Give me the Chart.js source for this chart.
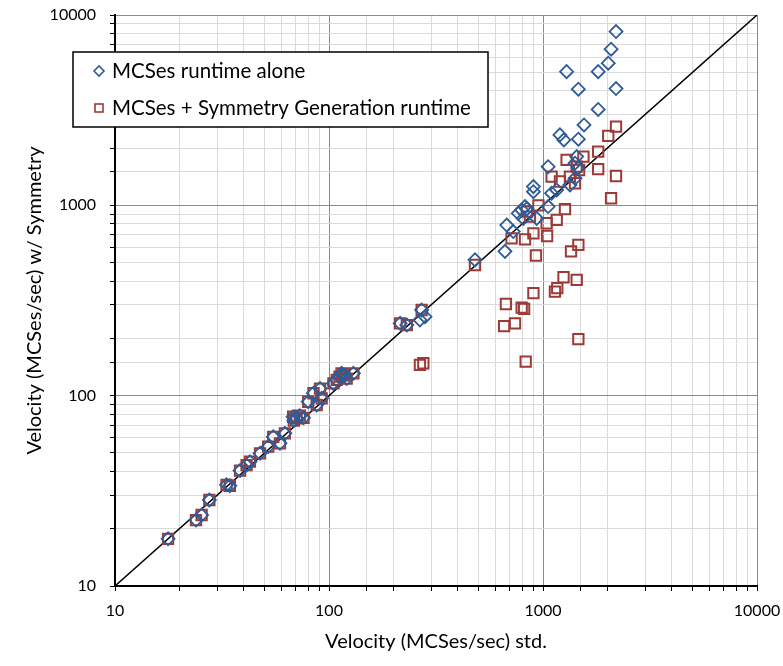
<!DOCTYPE html>
<html>
<head>
<meta charset="utf-8">
<script src="https://cdn.jsdelivr.net/npm/chart.js@4/dist/chart.umd.min.js"></script>
<style>
  body { margin: 0; background: #fff; }
  canvas { display: block; }
</style>
</head>
<body>
<canvas id="grafico" width="783" height="666"></canvas>
<script>
// velocidades: std. (x) vs con simetria (y)
const aloneX = [17.7, 23.9, 25.4, 27.6, 33.2, 34.4, 38.4, 41.2, 42.7, 47.6, 52.0, 54.9, 59.0, 62.2, 68.0, 68.5, 70.5, 73.0, 76.0,
  80.0, 84.6, 87.6, 90.8, 92.4, 104.9, 108.7, 112.0, 114.4, 118.0, 120.9, 130.0,
  215, 231, 266, 271, 281,
  481, 664, 677, 726, 766, 795, 809, 824, 840, 902, 902, 934, 1057, 1057, 1097, 1159, 1200, 1252, 1289,
  1336, 1411, 1411, 1437, 1456, 1463, 1463, 1555, 1811, 1811, 2018, 2080, 2194, 2194]
const aloneY = [17.7, 22.2, 23.6, 28.3, 34.0, 33.6, 40.4, 43.2, 45.0, 49.8, 54.0, 60.8, 56.2, 63.4, 77.5, 74.0, 76.0, 78.5, 76.5,
  92.9, 103, 89.3, 109, 96.8, 116, 121, 126, 131, 128, 123, 131,
  240, 235, 250, 282, 260,
  517, 573, 788, 728, 908, 946, 854, 985, 958, 1254, 1180, 854, 985, 1596, 1158, 1205, 2345, 2207, 5040,
  1280, 1387, 1665, 1803, 1570, 2227, 4074, 2645, 3190, 5040, 5585, 6613, 4105, 8185]

const symX = [17.7, 23.9, 25.4, 27.6, 33.2, 34.4, 38.4, 41.2, 42.7, 47.6, 52.0, 54.9, 59.0, 62.2, 68.0, 68.5, 70.5, 73.0, 76.0,
  80.0, 84.6, 87.6, 90.8, 92.4, 104.9, 108.7, 112.0, 114.4, 118.0, 120.9, 130.0,
  215, 231, 266, 271, 276,
  481, 658, 671, 713, 740, 795, 816, 824, 830, 840, 869, 902, 902, 927, 952, 1040, 1045, 1097, 1137,
  1159, 1166, 1200, 1247, 1267, 1289, 1336, 1352, 1411, 1437, 1437, 1463, 1463, 1475, 1545, 1811, 1811,
  2018, 2080, 2194, 2194]
const symY = [17.7, 22.2, 23.6, 28.3, 34.0, 33.6, 40.4, 43.2, 45.0, 49.8, 54.0, 60.8, 56.2, 63.4, 77.5, 74.0, 76.0, 78.5, 76.5,
  92.9, 103, 89.3, 109, 96.8, 116, 121, 126, 131, 128, 123, 131,
  240, 235, 145, 282, 148,
  486, 232, 303, 671, 240, 290, 286, 662, 151, 927, 873, 713, 346, 545, 1000, 805, 690, 1415, 352,
  839, 367, 1334, 419, 955, 1734, 1415, 573, 1306, 1596, 406, 620, 198, 1534, 1803, 1916, 1549,
  2316, 1089, 2592, 1426]

const diagonal = [10, 10000]
const etiquetas = ['MCSes runtime alone', 'MCSes + Symmetry Generation runtime']

const fuente = 'Lato, "Open Sans", sans-serif'
const azul = '#2f5b97'
const rojo = '#9c3a37'

const puntos = (xs, ys) => xs.map((x, i) => ({ x: x, y: ys[i] }))
const esDecada = v => Math.abs(Math.log10(v) - Math.round(Math.log10(v))) < 1e-6
const colorGrilla = c => (c.tick && esDecada(c.tick.value)) ? '#8a8a8a' : '#dadada'

// cuadro de leyenda dentro del grafico
const cuadroLeyenda = {
  id: 'cuadroLeyenda',
  afterDraw(chart) {
    const c = chart.ctx
    c.save()
    c.fillStyle = '#fff'
    c.fillRect(73, 52, 415, 75)
    c.strokeStyle = '#000'
    c.lineWidth = 1.5
    c.strokeRect(73, 52, 415, 75)

    c.lineWidth = 1.6
    c.strokeStyle = azul
    c.beginPath()
    c.moveTo(94, 71); c.lineTo(99, 66); c.lineTo(104, 71); c.lineTo(99, 76)
    c.closePath()
    c.stroke()

    c.strokeStyle = rojo
    c.strokeRect(95, 104, 8, 8)

    c.fillStyle = '#000'
    c.font = '20.5px ' + fuente
    c.textBaseline = 'middle'
    c.fillText(etiquetas[0], 112, 71)
    c.fillText(etiquetas[1], 112, 108)
    c.restore()
  }
}

const ejeLog = (titulo, tituloPad, ajuste) => ({
  type: 'logarithmic',
  min: 10,
  max: 10000,
  border: { color: '#000', width: 2 },
  grid: { color: colorGrilla, tickColor: '#000', tickLength: 5, lineWidth: 1 },
  ticks: {
    autoSkip: false,
    maxRotation: 0,
    color: '#000',
    font: { family: fuente, size: 16 },
    callback: v => esDecada(v) ? String(Math.round(v)) : ''
  },
  title: { display: true, text: titulo, color: '#000', font: { family: fuente, size: 20 }, padding: tituloPad },
  afterFit: ajuste
})

// tamaño fijo de los ejes, sin relleno extra por las etiquetas
const ejeX = ejeLog('Velocity (MCSes/sec) std.', { top: 0, bottom: 12 }, s => {
  s.height = 80
  s.paddingLeft = 0
  s.paddingRight = 0
})
ejeX.ticks.padding = 10
const ejeY = ejeLog('Velocity (MCSes/sec) w/ Symmetry', { top: 23, bottom: 0 }, s => {
  s.width = 115
  s.paddingTop = 0
  s.paddingBottom = 0
})
ejeY.ticks.padding = 14

new Chart(document.getElementById('grafico'), {
  type: 'scatter',
  data: {
    datasets: [
      {
        label: etiquetas[0],
        data: puntos(aloneX, aloneY),
        pointStyle: 'rectRot',
        pointRadius: 6.5,
        borderColor: azul,
        backgroundColor: 'rgba(0,0,0,0)',
        borderWidth: 1.8
      },
      {
        label: etiquetas[1],
        data: puntos(symX, symY),
        pointStyle: 'rect',
        pointRadius: 7.3,
        borderColor: rojo,
        backgroundColor: 'rgba(0,0,0,0)',
        borderWidth: 2
      },
      {
        type: 'line',
        label: 'y = x',
        data: puntos(diagonal, diagonal),
        borderColor: '#000',
        borderWidth: 1.5,
        pointRadius: 0,
        showLine: true
      }
    ]
  },
  options: {
    responsive: false,
    animation: false,
    layout: { autoPadding: false, padding: { top: 15, right: 26, left: 0, bottom: 0 } },
    plugins: { legend: { display: false }, tooltip: { enabled: false } },
    scales: { x: ejeX, y: ejeY }
  },
  plugins: [cuadroLeyenda]
})
</script>
</body>
</html>
